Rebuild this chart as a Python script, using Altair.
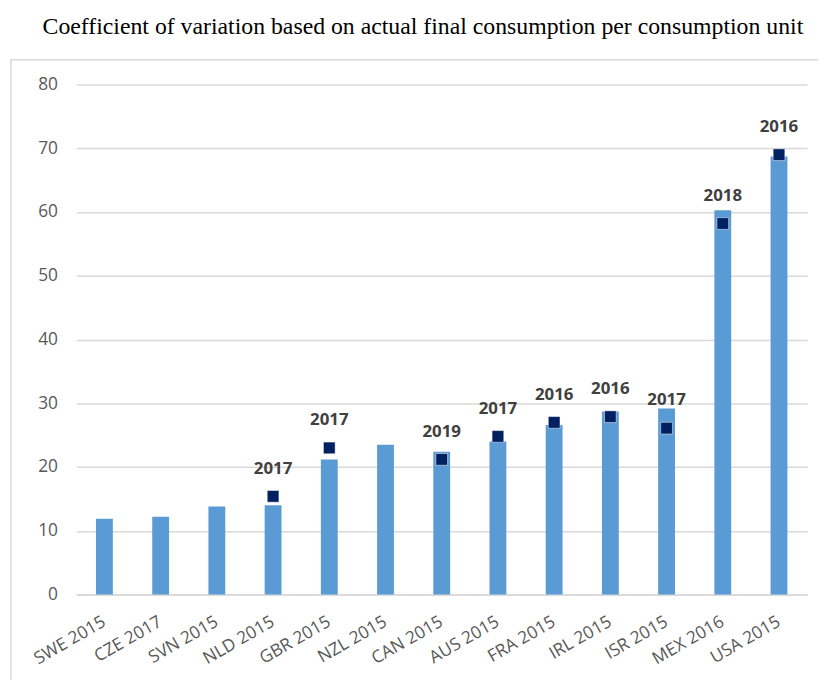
import altair as alt
import pandas as pd

categories = ["SWE 2015", "CZE 2017", "SVN 2015", "NLD 2015", "GBR 2015", "NZL 2015",
              "CAN 2015", "AUS 2015", "FRA 2015", "IRL 2015", "ISR 2015", "MEX 2016", "USA 2015"]
bar_values = [11.9, 12.2, 13.8, 14.0, 21.2, 23.5, 22.4, 24.0, 26.6, 28.7, 29.2, 60.3, 68.7]
marker_values = [None, None, None, 15.4, 23.0, None, 21.2, 24.8, 27.0, 27.9, 26.1, 58.2, 69.0]
marker_years = ["", "", "", "2017", "2017", "", "2019", "2017", "2016", "2016", "2017", "2018", "2016"]

df = pd.DataFrame({"cat": categories, "bar": bar_values,
                   "marker": marker_values, "year": marker_years})
dm = df.dropna(subset=["marker"])

W, H = 738, 515
x = alt.X("cat:N", sort=categories, title=None,
          scale=alt.Scale(paddingInner=0, paddingOuter=0),
          axis=alt.Axis(labelAngle=-30, labelAlign="right", labelBaseline="middle",
                        labelPadding=26, ticks=False, tickSize=0, domain=True,
                        domainColor="#d9d9d9", domainWidth=1.5,
                        labelFont="Open Sans", labelFontSize=17.5, labelColor="#595959"))
yscale = alt.Scale(domain=[0, 80], nice=False)
yaxis = alt.Axis(values=list(range(0, 81, 10)), domain=False, ticks=False, tickSize=0,
                 labelPadding=19, grid=True, gridColor="#d9d9d9", gridWidth=1.5,
                 labelFont="Open Sans", labelFontSize=17.5, labelColor="#595959")

frame = alt.Chart(pd.DataFrame({"a": [0]})).mark_rect(
    filled=False, stroke="#d9d9d9", strokeWidth=1.5
).encode(x=alt.value(-66), x2=alt.value(W + 40), y=alt.value(-25), y2=alt.value(H + 120))

bars = alt.Chart(df).mark_bar(size=17, color="#5b9bd5").encode(
    x=x, y=alt.Y("bar:Q", scale=yscale, axis=yaxis, title=None))

markers = alt.Chart(dm).mark_point(shape="square", filled=True, size=140,
                                   color="#002060", stroke="white", strokeWidth=0.5,
                                   opacity=1).encode(
    x=alt.X("cat:N", sort=categories), y=alt.Y("marker:Q", scale=yscale))

labels = alt.Chart(dm).mark_text(dy=-28, font="Open Sans", fontWeight="bold",
                                 fontSize=17, color="#404040").encode(
    x=alt.X("cat:N", sort=categories), y=alt.Y("marker:Q", scale=yscale),
    text="year:N")

chart = alt.layer(frame, bars, markers, labels).properties(
    width=W, height=H,
    autosize=alt.AutoSizeParams(type="none"),
    padding={"left": 69, "top": 74, "right": 11, "bottom": 83},
    title=alt.TitleParams(
        "Coefficient of variation based on actual final consumption per consumption unit",
        font="Liberation Serif", fontSize=24, fontWeight="normal", color="#000000",
        anchor="middle", dx=-19, offset=20)
).configure_view(stroke=None)

chart.save("out.html", embed_options={"renderer": "svg", "actions": False})
